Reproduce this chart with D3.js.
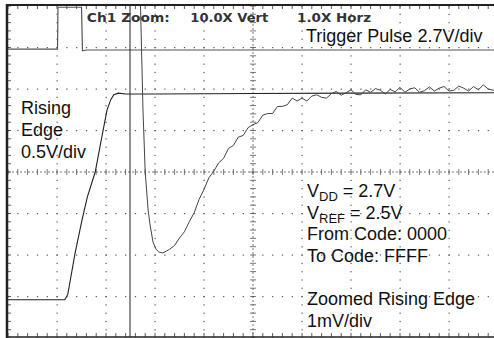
<!DOCTYPE html>
<html>
<head>
<meta charset="utf-8">
<script src="https://cdn.jsdelivr.net/npm/d3@7"></script>
<style>
  html, body { margin: 0; padding: 0; background: #fff; }
  svg { display: block; }
  text { font-family: "Liberation Sans", Arial, Helvetica, sans-serif; fill: #111; }
</style>
</head>
<body>
<div id="chart"></div>
<script>
// scope traces, in divisions (time: 0..10, volts: -4..4)
const triggerPulse = [[0, 2.96], [1.01, 2.96], [1.02, 3.97], [1.5, 3.97], [1.52, 2.92], [1.6, 2.94], [10, 2.94]];

const risingEdge = [[0, -3.08], [1.16, -3.08], [1.22, -2.95], [1.37, -1.95], [1.51, -1.16], [1.62, -0.6],
  [1.78, 0], [1.9, 0.75], [2.02, 1.49], [2.1, 1.75], [2.16, 1.86], [2.25, 1.9], [2.4, 1.88], [3.0, 1.88],
  [5.0, 1.89], [7.0, 1.9], [10, 1.91]];

const zoomedEdge = [[2.70, 4.2], [2.755, 1.49], [2.80, 0], [2.86, -0.92], [2.90, -1.28], [2.96, -1.69],
  [3.02, -1.86], [3.08, -1.93], [3.16, -1.95], [3.24, -1.90], [3.3, -1.86], [3.4, -1.77], [3.5, -1.59],
  [3.6, -1.44], [3.7, -1.20], [3.8, -0.98], [3.9, -0.66], [4.0, -0.42], [4.1, -0.14], [4.2, 0.02],
  [4.3, 0.22], [4.4, 0.33], [4.5, 0.57], [4.6, 0.64], [4.7, 0.84], [4.8, 0.88], [4.9, 1.07], [5.0, 1.14],
  [5.1, 1.19], [5.2, 1.37], [5.3, 1.41], [5.4, 1.41], [5.5, 1.58], [5.6, 1.58], [5.7, 1.62], [5.8, 1.78],
  [5.9, 1.71], [6.0, 1.78], [6.1, 1.71], [6.2, 1.83], [6.3, 1.86], [6.4, 1.80], [6.5, 1.78], [6.6, 1.89],
  [6.7, 1.94], [6.8, 1.85], [6.9, 1.91], [7.0, 1.98], [7.1, 1.87], [7.2, 1.86], [7.3, 1.98], [7.4, 1.92],
  [7.5, 2.01], [7.6, 1.97], [7.7, 1.88], [7.8, 1.99], [7.9, 1.93], [8.0, 2.04], [8.1, 1.92], [8.2, 2.00],
  [8.3, 2.03], [8.4, 1.92], [8.5, 1.96], [8.6, 2.05], [8.7, 1.95], [8.8, 2.02], [8.9, 2.06], [9.0, 1.95],
  [9.1, 1.97], [9.2, 2.07], [9.3, 2.02], [9.4, 1.95], [9.5, 2.06], [9.6, 1.98], [9.7, 2.10], [9.8, 2.00],
  [9.9, 1.97], [10, 2.02]];

const cursorTimes = [2.49];

const headerLabels = [
  { text: "Ch1 Zoom:", t: 1.61, w: 83 },
  { text: "10.0X Vert", t: 3.72, w: 78 },
  { text: "1.0X Horz", t: 5.9, w: 74 }
];
const leftLabels = ["Rising", "Edge", "0.5V/div"];
const noteLines = [
  { main: "V", sub: "DD", rest: " = 2.7V" },
  { main: "V", sub: "REF", rest: " = 2.5V" },
  { main: "From Code: 0000" },
  { main: "To Code: FFFF" },
  { main: "" },
  { main: "Zoomed Rising Edge" },
  { main: "1mV/div" }
];

const W = 494, H = 338;
const x = d3.scaleLinear().domain([0, 10]).range([8, 498]);
const y = d3.scaleLinear().domain([-4, 4]).range([338, 6]);

const svg = d3.select("#chart").append("svg")
  .attr("width", W).attr("height", H);

svg.append("rect").attr("width", W).attr("height", H).attr("fill", "#fff");

svg.append("clipPath").attr("id", "plot")
  .append("rect").attr("x", 8).attr("y", 6).attr("width", W - 8).attr("height", 331);

const grid = svg.append("g").attr("fill", "#555");
const minorX = d3.range(0, 50.5).map(i => i / 5);
const minorY = d3.range(0, 40.5).map(i => -4 + i / 5);

// dotted grid lines
d3.range(1, 10).filter(i => i !== 5).forEach(i => {
  grid.selectAll(null).data(minorY).enter().append("rect")
    .attr("x", x(i) - 0.5).attr("y", d => y(d) - 0.5).attr("width", 1.2).attr("height", 1.2);
});
d3.range(-3, 4).filter(j => j !== 0).forEach(j => {
  grid.selectAll(null).data(minorX).enter().append("rect")
    .attr("x", d => x(d) - 0.5).attr("y", y(j) - 0.5).attr("width", 1.2).attr("height", 1.2);
});

// centre cross with minor ticks
const cross = svg.append("g").attr("stroke", "#555").attr("stroke-width", 0.8);
cross.append("line").attr("x1", x(0)).attr("x2", x(10)).attr("y1", y(0)).attr("y2", y(0))
  .attr("stroke-dasharray", "2,2");
cross.append("line").attr("x1", x(5)).attr("x2", x(5)).attr("y1", y(-4)).attr("y2", y(4))
  .attr("stroke-dasharray", "2,2");
cross.selectAll(null).data(minorX).enter().append("line")
  .attr("x1", d => x(d)).attr("x2", d => x(d)).attr("y1", y(0) - 3).attr("y2", y(0) + 3);
cross.selectAll(null).data(minorY).enter().append("line")
  .attr("y1", d => y(d)).attr("y2", d => y(d)).attr("x1", x(5) - 3).attr("x2", x(5) + 3);

// frame ticks
const frame = svg.append("g").attr("stroke", "#333").attr("stroke-width", 0.8);
frame.selectAll(null).data(minorX).enter().append("line")
  .attr("x1", d => x(d)).attr("x2", d => x(d)).attr("y1", 5).attr("y2", 9);
frame.selectAll(null).data(minorX).enter().append("line")
  .attr("x1", d => x(d)).attr("x2", d => x(d)).attr("y1", 337).attr("y2", 333);
frame.selectAll(null).data(minorY).enter().append("line")
  .attr("y1", d => y(d)).attr("y2", d => y(d)).attr("x1", 7).attr("x2", 11);

// frame border
svg.append("line").attr("x1", 6).attr("x2", W).attr("y1", 5).attr("y2", 5)
  .attr("stroke", "#222").attr("stroke-width", 2);
svg.append("line").attr("x1", 6).attr("x2", W).attr("y1", 337).attr("y2", 337)
  .attr("stroke", "#222").attr("stroke-width", 1.5);
svg.append("line").attr("x1", 7).attr("x2", 7).attr("y1", 4).attr("y2", 338)
  .attr("stroke", "#222").attr("stroke-width", 2.5);

// traces
const line = d3.line().x(d => x(d[0])).y(d => y(d[1]));
const traces = svg.append("g").attr("clip-path", "url(#plot)").attr("fill", "none");

traces.append("path").datum(triggerPulse).attr("d", line)
  .attr("stroke", "#555").attr("stroke-width", 1.2);

traces.selectAll(null).data(cursorTimes).enter().append("line")
  .attr("x1", d => x(d)).attr("x2", d => x(d)).attr("y1", y(4)).attr("y2", y(-4))
  .attr("stroke", "#222").attr("stroke-width", 1);

traces.append("path").datum(risingEdge).attr("d", line)
  .attr("stroke", "#222").attr("stroke-width", 1.1);

traces.append("path").datum(zoomedEdge).attr("d", line)
  .attr("stroke", "#444").attr("stroke-width", 1).attr("stroke-linejoin", "round");

// header text
svg.selectAll(null).data(headerLabels).enter().append("text")
  .attr("x", d => x(d.t)).attr("y", 22)
  .attr("textLength", d => d.w).attr("lengthAdjust", "spacingAndGlyphs")
  .style("font-family", "'DejaVu Sans', sans-serif").style("font-size", "12.5px")
  .style("font-weight", "bold").style("fill", "#333")
  .text(d => d.text);

svg.append("text").attr("x", 306).attr("y", 42).style("font-size", "18px")
  .text("Trigger Pulse 2.7V/div");

svg.selectAll(null).data(leftLabels).enter().append("text")
  .attr("x", 21).attr("y", (d, i) => 114 + i * 22).style("font-size", "18px")
  .text(d => d);

const notes = svg.append("g").style("font-size", "18px");
noteLines.forEach((d, i) => {
  const t = notes.append("text").attr("x", 307).attr("y", 197 + i * 21.6);
  t.append("tspan").text(d.main);
  if (d.sub) {
    t.append("tspan").attr("dy", 4).style("font-size", "13px").text(d.sub);
    t.append("tspan").attr("dy", -4).text(d.rest);
  }
});
</script>
</body>
</html>
